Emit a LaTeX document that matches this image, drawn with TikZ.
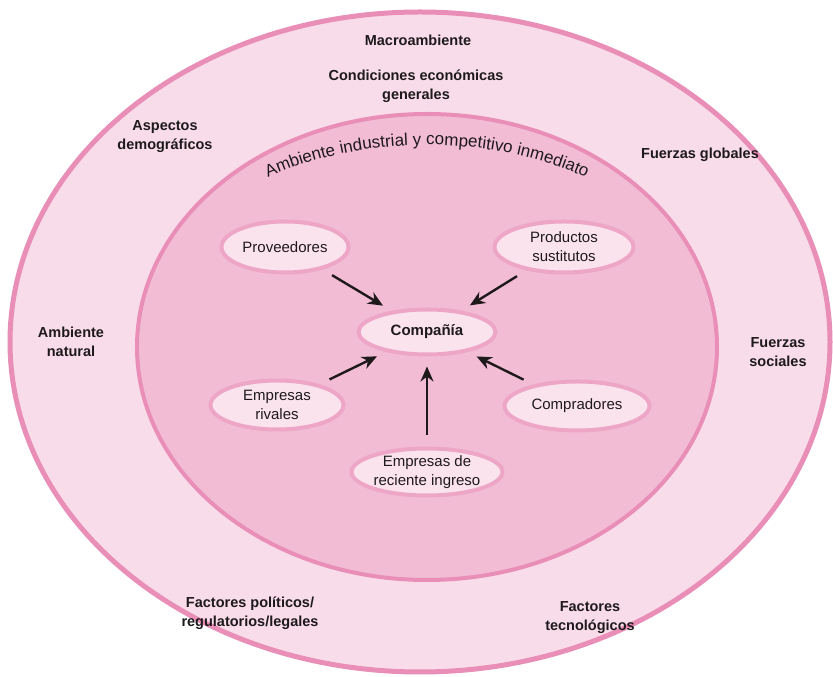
\documentclass[tikz,border=0pt]{standalone}
\usepackage{fontspec}
\setmainfont{Liberation Sans}
\usetikzlibrary{shapes.geometric,arrows.meta,decorations.text}

\definecolor{rosahell}{RGB}{249,220,233}
\definecolor{rosamittel}{RGB}{243,188,213}
\definecolor{rosarand}{RGB}{233,142,183}
\definecolor{rosaknoten}{RGB}{251,227,238}
\definecolor{rosaknotenrand}{RGB}{238,166,199}
\definecolor{schrift}{RGB}{30,26,28}

\begin{document}
\begin{tikzpicture}[x=1pt,y=1pt,
  kraft/.style={font=\fontsize{14.5}{19}\selectfont\bfseries,text=schrift,align=center},
  akteur/.style={ellipse,draw=rosaknotenrand,line width=4pt,fill=rosaknoten,inner sep=0pt,align=center,text=schrift,font=\fontsize{15}{19}\selectfont},
  pfeil/.style={-{Stealth[length=15pt,width=13pt]},line width=2.4pt,draw=schrift,shorten >=10pt,shorten <=11pt}]
\useasboundingbox (0,0) rectangle (833,677);

%Makroumfeld
\draw[fill=rosahell,draw=rosarand,line width=5pt] (420,335) ellipse [x radius=410, y radius=330];
\node[kraft] (makro) at (418,637) {Macroambiente};
\node[kraft] (wirtschaft) at (416,591) {Condiciones económicas\\generales};
\node[kraft] (demo) at (165,540) {Aspectos\\demográficos};
\node[kraft] (global) at (700,522) {Fuerzas globales};
\node[kraft] (natur) at (71,335) {Ambiente\\natural};
\node[kraft] (sozial) at (778,325) {Fuerzas\\sociales};
\node[kraft] (politik) at (250,64) {Factores políticos/\\regulatorios/legales};
\node[kraft] (technik) at (590,59) {Factores\\tecnológicos};

%Branchenumfeld
\draw[fill=rosamittel,draw=rosarand,line width=4pt] (427,330) ellipse [x radius=290, y radius=233];
\path[decorate,decoration={text along path,text align=center,
  text={|\fontsize{17}{17}\selectfont\color{schrift}|Ambiente industrial y competitivo inmediato}}]
  (427,330) ++(150:292 and 202) arc[start angle=150, end angle=30, x radius=292, y radius=202];

\node[akteur,minimum width=127pt,minimum height=51pt] (prov) at (285,430) {Proveedores};
\node[akteur,minimum width=139pt,minimum height=51pt] (sust) at (564,430) {Productos\\sustitutos};
\node[akteur,minimum width=137pt,minimum height=45pt,font=\fontsize{15}{19}\selectfont\bfseries] (cia) at (427,345) {Compañía};
\node[akteur,minimum width=133pt,minimum height=49pt] (riv) at (277,272) {Empresas\\rivales};
\node[akteur,minimum width=145pt,minimum height=49pt] (comp) at (577,271) {Compradores};
\node[akteur,minimum width=133pt,minimum height=47pt] (nuev) at (427,205) {Empresas de\\reciente ingreso};

\foreach \n in {prov,sust,riv,comp,nuev}{
\draw[pfeil] (\n) -- (cia);
}
\end{tikzpicture}
\end{document}
